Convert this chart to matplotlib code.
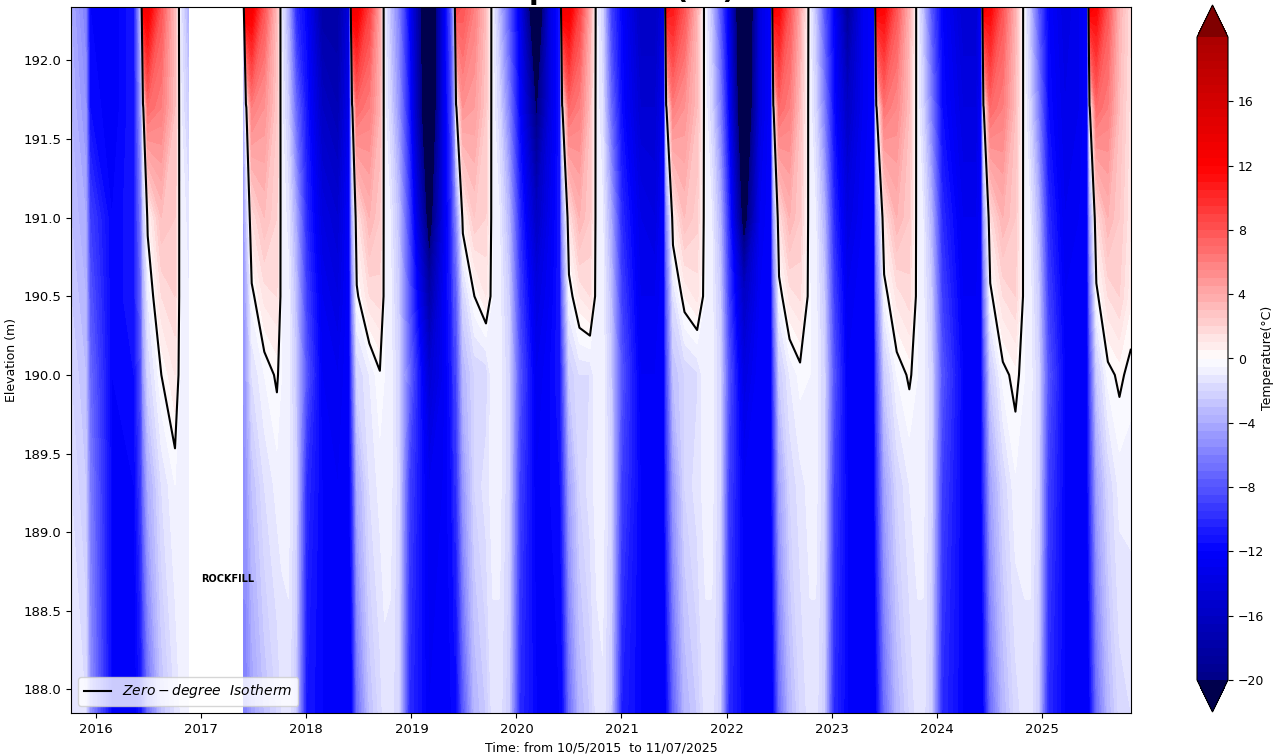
#!/usr/bin/env python3
"""Ground temperature section with the zero-degree isotherm."""
import numpy as np
import matplotlib
matplotlib.use("Agg")
import matplotlib.pyplot as plt
from matplotlib.colors import Normalize
from matplotlib.lines import Line2D

nan = np.nan

# sample times (decimal years), one line per freeze/thaw cycle
times = [
    2015.76, 2015.90, 2015.94, 2016.15, 2016.36, 2016.43, 2016.445, 2016.49, 2016.62, 2016.75, 2016.80, 2016.88,
    2016.885, 2017.395,  # no readings
    2017.40, 2017.425, 2017.48, 2017.60, 2017.72, 2017.765,
    2017.83, 2017.90, 2018.00, 2018.15, 2018.30, 2018.41, 2018.435, 2018.48, 2018.60, 2018.70, 2018.745,
    2018.80, 2018.88, 2018.98, 2019.17, 2019.30, 2019.38, 2019.41, 2019.425, 2019.49, 2019.60, 2019.71, 2019.775,
    2019.84, 2019.93, 2020.03, 2020.19, 2020.32, 2020.415, 2020.435, 2020.50, 2020.60, 2020.70, 2020.765,
    2020.82, 2020.90, 2021.00, 2021.18, 2021.32, 2021.405, 2021.425, 2021.49, 2021.60, 2021.72, 2021.80,
    2021.86, 2021.94, 2022.02, 2022.165, 2022.32, 2022.425, 2022.445, 2022.50, 2022.60, 2022.70, 2022.795,
    2022.85, 2022.93, 2023.02, 2023.15, 2023.30, 2023.405, 2023.425, 2023.50, 2023.62, 2023.74, 2023.82,
    2023.87, 2023.95, 2024.05, 2024.25, 2024.38, 2024.425, 2024.445, 2024.51, 2024.63, 2024.75, 2024.84,
    2024.89, 2024.97, 2025.06, 2025.22, 2025.36, 2025.435, 2025.455, 2025.52, 2025.63, 2025.74, 2025.85,
]

elevations = [187.85, 189.3, 190.0, 190.5, 191.0, 191.7, 192.35]

# temperature (deg C) at each sensor elevation
temp_192_35 = [
    -4, -6, -12, -12.5, -11, -2, 13, 13, 8, 3, -1, -4,
    nan, nan,
    -3, 14, 13, 8, 3, -1,
    -4, -10, -12, -18, -18, -14, 14, 13, 9, 4, -1,
    -3, -6, -12, -26, -14, -8, -3, 9, 8, 6, 3, -0.8,
    -3.5, -8, -13, -26, -14, -11, 14, 13, 9, 4, -0.8,
    -2, -9, -12, -16, -16, -14, 12, 11, 8, 3.5, -0.8,
    -3, -8, -13, -28, -14, -12, 13, 12, 8, 4, -0.8,
    -3, -8, -12, -19, -13, -12, 13, 12, 8, 3.5, -0.8,
    -3, -8, -12, -15, -15, -12, 13, 12, 8, 3.5, -0.8,
    -3, -8, -12, -14, -13, -12, 13, 12, 8, 3.5, 1.5,
]
temp_191_7 = [
    -3.5, -5, -11.5, -12.5, -11, -4, -0.5, 7, 6, 3, -0.8, -2.5,
    nan, nan,
    -4, -0.5, 6, 5, 2.5, -0.8,
    -2.5, -7, -11, -16, -17, -13, -0.5, 7, 6, 3.5, -0.8,
    -2, -5, -11, -26, -14, -9, -5, -0.3, 5, 4.5, 2.5, -0.7,
    -2, -6, -12, -20.5, -14, -11, -0.3, 7, 6, 3, -0.7,
    -1.5, -7, -11.5, -15, -15, -13, -0.3, 6, 5, 3, -0.7,
    -2, -6, -12, -26, -14, -12, -0.3, 7, 6, 3, -0.7,
    -2, -6, -11.5, -16, -13, -12, -0.3, 6.5, 5.5, 3, -0.7,
    -2, -6, -11.5, -14, -14, -12, -0.3, 7, 6, 3, -0.7,
    -2, -6, -11.5, -13.5, -13, -12, -0.3, 7, 6, 3, 1.2,
]
temp_191_0 = [
    -3, -4, -9, -12, -11, -6, -3, 0.3, 3, 2.5, -0.6, -1.2,
    nan, nan,
    -5, -3, 1.5, 3, 2, -0.6,
    -1.2, -4, -10, -14, -15, -12, -4, 1.2, 3.5, 2.5, -0.6,
    -1, -3, -9, -22, -14, -10, -7, -6, 0.5, 2.5, 2, -0.6,
    -1, -3.5, -10, -16, -13, -11, -5, 1.3, 3.5, 2.5, -0.6,
    -0.9, -4, -10, -13.5, -14, -12, -6, 0.8, 3, 2.2, -0.6,
    -1, -3.5, -10, -22, -13, -12, -5, 1.5, 3.5, 2.5, -0.6,
    -1, -3.5, -10, -14, -12.5, -12, -5, 1.3, 3.5, 2.5, -0.6,
    -1, -3.5, -10, -13, -13, -12, -5, 1.5, 3.5, 2.5, -0.6,
    -1, -3.5, -10, -13, -12.5, -12, -5, 1.5, 3.5, 2.5, 1.0,
]
temp_190_5 = [
    -2.5, -3.5, -8, -12, -11, -7, -4, -1, 1.5, 2, -0.5, -1.0,
    nan, nan,
    -5, -4, -0.3, 1.2, 1.5, -0.5,
    -0.8, -3, -9, -13, -14, -12, -6, -0.2, 1.5, 1.8, -0.5,
    -0.8, -2.5, -8, -18, -13, -10.5, -8, -8, -2, 0, 1.0, -0.5,
    -0.8, -2.5, -9, -14, -12.5, -11, -7, -0.5, 1.0, 1.5, -0.5,
    -0.7, -3, -9, -13, -13, -12, -8, -1.5, 0.5, 1.2, -0.5,
    -0.8, -2.5, -9, -16, -12.5, -12, -7, -0.5, 1.2, 1.6, -0.5,
    -0.8, -2.5, -9, -13, -12, -12, -7, -0.5, 1.2, 1.8, -0.5,
    -0.8, -2.5, -9, -12.5, -12.5, -12, -7, -0.3, 1.5, 2, -0.5,
    -0.8, -2.5, -9, -12.5, -12, -12, -7, -0.3, 1.5, 2, 0.6,
]
temp_190_0 = [
    -2, -3, -7, -12, -11.5, -8, -5, -2, 0.0, 1.0, -0.5, -0.8,
    nan, nan,
    -5, -4.5, -1.5, -0.5, 0.15, -0.5,
    -0.7, -2.5, -8, -12.5, -13, -12, -8, -2, -1.0, -0.1, -0.5,
    -0.7, -2, -7, -15, -13, -11, -9, -9, -3.5, -2.0, -1.9, -0.5,
    -0.7, -2, -8, -13, -12, -11, -9, -2.5, -1.5, -1.5, -0.5,
    -0.6, -2.5, -8, -12.5, -12.5, -12, -9, -3, -2, -1.6, -0.5,
    -0.7, -2, -8, -14, -12, -12, -9, -2.5, -1.0, -0.3, -0.5,
    -0.7, -2, -8, -12.5, -12, -12, -9, -2.5, -0.5, 0.15, -0.5,
    -0.7, -2, -8, -12, -12, -12, -9, -2.5, -0.3, 0.3, -0.5,
    -0.7, -2, -8, -12, -12, -12, -9, -2.5, -0.3, 0.2, -0.3,
]
temp_189_3 = [
    -1.5, -2.5, -6, -12, -12, -9, -7, -4, -1.5, -0.5, -0.6, -0.8,
    nan, nan,
    -5, -5, -3, -1.5, -0.8, -0.7,
    -0.8, -2, -10, -12, -12.5, -12, -10, -4, -1.5, -0.8, -0.7,
    -0.8, -1.8, -9, -13, -12.5, -11.5, -10, -10, -5, -2, -1.2, -0.8,
    -0.8, -2, -9, -12.5, -12, -11.5, -10, -4.5, -2, -1.2, -0.8,
    -0.7, -2, -9, -12, -12, -12, -10, -5, -2, -1.2, -0.8,
    -0.8, -2, -9, -12.5, -12, -12, -10, -4.5, -2, -1.2, -0.8,
    -0.8, -2, -9, -12, -12, -12, -10, -4.5, -2, -1.0, -0.8,
    -0.8, -2, -9, -12, -12, -12, -10, -4.5, -2, -0.6, -0.8,
    -0.8, -2, -9, -12, -12, -12, -10, -4.5, -2, -0.8, -0.8,
]
temp_187_85 = [
    -1, -1.5, -5, -12, -12.5, -11, -10, -7, -3, -1.5, -1, -1,
    nan, nan,
    -6, -6, -4.5, -3, -2, -1.5,
    -1.2, -2.5, -11, -12, -12, -12, -12, -7, -3, -1.8, -1.2,
    -1.2, -2, -10, -12.5, -12, -12, -12, -12, -8, -3.5, -2.5, -1.2,
    -1.2, -2.5, -10, -12, -12, -12, -12, -7, -3.5, -2.5, -1.2,
    -1.1, -2.5, -10.5, -12, -12, -12, -12, -7.5, -3.5, -2.5, -1.2,
    -1.2, -2.5, -10, -12, -12, -12, -12, -7, -3.5, -2, -1.2,
    -1.2, -2.5, -10, -12, -12, -12, -12, -7, -3.5, -2, -1.2,
    -1.2, -2.5, -10, -12, -12, -12, -12, -7, -3.5, -1.8, -1.2,
    -1.2, -2.5, -10, -12, -12, -12, -12, -7, -3.5, -1.8, -1.5,
]

year_ticks = list(range(2016, 2026))
cbar_ticks = list(range(-20, 17, 4))

temps = np.ma.masked_invalid(np.array([temp_187_85, temp_189_3, temp_190_0, temp_190_5,
                                        temp_191_0, temp_191_7, temp_192_35]))
X, Y = np.meshgrid(times, elevations)

fig = plt.figure(figsize=(12.78, 7.55), dpi=100)
ax = fig.add_axes([71 / 1278, 1 - 713 / 755, 1060 / 1278, 706 / 755])
cax = fig.add_axes([1197 / 1278, 1 - 712 / 755, 31 / 1278, 707 / 755])

levels = np.arange(-20, 20.01, 0.5)
cf = ax.contourf(X, Y, temps, levels=levels, cmap="seismic",
                 norm=Normalize(vmin=-24, vmax=24), extend="both")
ax.contour(X, Y, temps, levels=[0], colors="k", linewidths=1.5)

ax.set_xlim(2015.76, 2025.85)
ax.set_ylim(187.85, 192.34)
ax.set_xticks(year_ticks)
ax.set_xticklabels([str(y) for y in year_ticks])
ax.set_yticks(np.arange(188.0, 192.01, 0.5))
ax.set_yticklabels(["%.1f" % v for v in np.arange(188.0, 192.01, 0.5)])
ax.tick_params(labelsize=9.5)
ax.set_xlabel("Time: from 10/5/2015  to 11/07/2025", fontsize=9)
ax.set_ylabel("Elevation (m)", fontsize=9)

ax.text(2017.25, 188.70, "ROCKFILL", fontsize=7, fontweight="bold",
        ha="center", va="center")

iso = Line2D([], [], color="k", linewidth=1.5, label=r"$Zero-degree\ \ Isotherm$")
ax.legend(handles=[iso], loc="lower left", fontsize=10)

# title sits mostly above the top edge, as in the source image
fig.text(601 / 1278, 1 + 1 / 755, "Temperature (°C)", ha="center", va="baseline",
         fontsize=20, fontweight="bold")

cbar = fig.colorbar(cf, cax=cax, ticks=cbar_ticks)
cbar.ax.tick_params(labelsize=9)
fig.text(1268 / 1278, 1 - 358 / 755, "Temperature(°C)", rotation=90,
         ha="center", va="center", fontsize=9)

fig.savefig("out.png", dpi=100)
